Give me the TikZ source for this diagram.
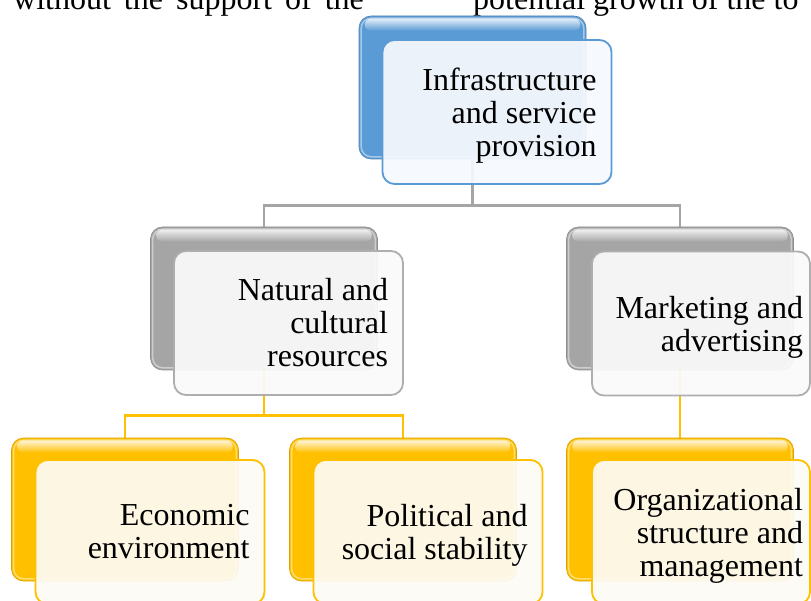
\documentclass[tikz,border=0pt]{standalone}
\usepackage{fontspec}
\setmainfont{Liberation Serif}

\definecolor{accblue}{RGB}{91,155,213}
\definecolor{accgrey}{RGB}{165,165,165}
\definecolor{accgold}{RGB}{255,192,0}
\definecolor{tintblue}{RGB}{246,249,253}
\definecolor{tintgrey}{RGB}{250,250,250}
\definecolor{tintgold}{RGB}{253,251,245}

\pgfdeclarelayer{paper}
\pgfdeclarelayer{links}
\pgfsetlayers{paper,links,main}

\tikzset{
  bodytext/.style={font=\fontsize{32}{33}\selectfont},
  backbox/.style={rectangle, rounded corners=12pt, minimum width=227pt,
    minimum height=143pt, inner sep=0pt, fill=#1, draw=#1!85!black, line width=0.6pt},
  frontbox/.style 2 args={rectangle, rounded corners=12pt, minimum width=229pt,
    minimum height=144pt, inner xsep=15pt, inner ysep=0pt, text width=199pt,
    align=flush right, fill=#2, fill opacity=0.93, text opacity=1, draw=#1,
    line width=1.8pt, bodytext},
  narrowbox/.style={minimum width=218pt, inner xsep=7pt, text width=204pt},
  link/.style={line width=2.5pt, draw=#1},
}

% glossy bevel on a back box: light band along the top and a soft inner rim
\newcommand\glossbox[2]{%
  \shade[top color=white!82!#2, bottom color=#2, rounded corners=6pt]
    ([shift={(6pt,-3pt)}]#1.north west) rectangle ([shift={(-6pt,-15pt)}]#1.north east);
  \draw[white, opacity=0.45, line width=1.5pt, rounded corners=10pt]
    ([shift={(2.5pt,-2.5pt)}]#1.north west) rectangle ([shift={(-2.5pt,2.5pt)}]#1.south east);
}

\begin{document}
\begin{tikzpicture}[x=1pt, y=-1pt]
\useasboundingbox (0,0) rectangle (811,601);
\begin{pgfonlayer}{paper}
  \fill[white] (0,0) rectangle (811,601);
\end{pgfonlayer}
\clip (0,0) rectangle (811,601);

% running text of the page above the chart
\node[bodytext, anchor=base west, inner sep=0pt] (para-a) at (13,9.5)
  {\spaceskip=13pt\relax without the support of the};
\node[bodytext, anchor=base west, inner sep=0pt] (para-b) at (473,9.5)
  {potential growth of the to};

% back boxes
\node[backbox=accblue] (infra-b)   at (472.5,87.5) {};
\node[backbox=accgrey] (natural-b) at (264,298.5) {};
\node[backbox=accgrey] (market-b)  at (680,298.5) {};
\node[backbox=accgold] (econ-b)    at (125,509.5) {};
\node[backbox=accgold] (polit-b)   at (403,509.5) {};
\node[backbox=accgold] (org-b)     at (680,509.5) {};
\glossbox{infra-b}{accblue}
\glossbox{natural-b}{accgrey}
\glossbox{market-b}{accgrey}
\glossbox{econ-b}{accgold}
\glossbox{polit-b}{accgold}
\glossbox{org-b}{accgold}

% front boxes with the labels
\node[frontbox={accblue}{tintblue}] (infra) at (497,112)
  {Infrastructure\\and service\\\smash{provision}};
\node[frontbox={accgrey!90}{tintgrey}] (natural) at (288.5,323)
  {Natural and\\cultural\\resources};
\node[frontbox={accgrey!90}{tintgrey}, narrowbox] (market) at (701,323.5)
  {Marketing and\\\smash{advertising}};
\node[frontbox={accgold}{tintgold}] (econ) at (150,532)
  {Economic\\environment};
\node[frontbox={accgold}{tintgold}] (polit) at (428,532)
  {Political and\\\smash{social stability}};
\node[frontbox={accgold}{tintgold}, narrowbox] (org) at (701,532)
  {Organizational\\structure and\\\smash{management}};

% connectors, running behind the boxes
\begin{pgfonlayer}{links}
  \draw[link=accgrey] (infra-b.south) -- ++(0,46) -| (natural-b.north);
  \draw[link=accgrey] (infra-b.south) -- ++(0,46) -| (market-b.north);
  \draw[link=accgold] (natural-b.south) -- ++(0,45) -| (econ-b.north);
  \draw[link=accgold] (natural-b.south) -- ++(0,45) -| (polit-b.north);
  \draw[link=accgold] (market-b.south) -- (org-b.north);
\end{pgfonlayer}
\end{tikzpicture}
\end{document}
